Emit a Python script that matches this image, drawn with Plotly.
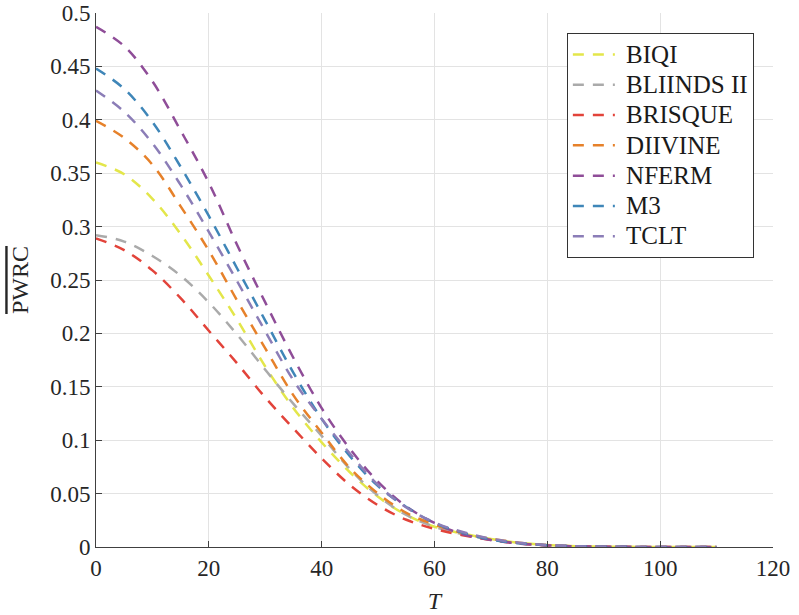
import plotly.graph_objects as go

T = [0, 5, 10, 15, 20, 25, 30, 35, 40, 45, 50, 55, 60, 65, 70, 75, 80, 85, 90, 95, 100, 105, 110]

BIQI = [0.360, 0.349, 0.326, 0.293, 0.254, 0.213, 0.169, 0.130, 0.098, 0.070, 0.047, 0.030, 0.019,
        0.0125, 0.0075, 0.0040, 0.0018, 0.0008, 0.0003, 0.00012, 0.00005, 0.00002, 0.00001]
BLIINDS_II = [0.292, 0.286, 0.2725, 0.254, 0.229, 0.199, 0.166, 0.134, 0.104, 0.073, 0.048, 0.030, 0.019,
              0.012, 0.007, 0.0035, 0.0017, 0.0007, 0.0003, 0.00012, 0.00005, 0.00002, 0.00001]
BRISQUE = [0.289, 0.278, 0.259, 0.233, 0.2025, 0.172, 0.140, 0.111, 0.083, 0.058, 0.039, 0.0255, 0.017,
           0.011, 0.0065, 0.0033, 0.0015, 0.0006, 0.00025, 0.0001, 0.00004, 0.00002, 0.00001]
DIIVINE = [0.399, 0.383, 0.358, 0.319, 0.2775, 0.231, 0.186, 0.142, 0.107, 0.074, 0.050, 0.032, 0.021,
           0.013, 0.0078, 0.0040, 0.0018, 0.0008, 0.0003, 0.0001, 0.00005, 0.00002, 0.00001]
NFERM = [0.487, 0.469, 0.436, 0.390, 0.341, 0.283, 0.229, 0.177, 0.130, 0.092, 0.061, 0.038, 0.0225,
         0.012, 0.0066, 0.0032, 0.0015, 0.0007, 0.0003, 0.00012, 0.00005, 0.00002, 0.00001]
M3 = [0.448, 0.429, 0.398, 0.356, 0.310, 0.261, 0.212, 0.163, 0.120, 0.085, 0.057, 0.0375, 0.0225,
      0.0134, 0.0070, 0.0035, 0.0016, 0.0007, 0.0003, 0.00012, 0.00005, 0.00002, 0.00001]
TCLT = [0.4275, 0.4075, 0.378, 0.339, 0.295, 0.249, 0.202, 0.156, 0.120, 0.0875, 0.058, 0.037, 0.023,
        0.014, 0.0078, 0.0040, 0.0019, 0.0008, 0.0003, 0.00012, 0.00005, 0.00002, 0.00001]

names = ["BIQI", "BLIINDS II", "BRISQUE", "DIIVINE", "NFERM", "M3", "TCLT"]
series = [BIQI, BLIINDS_II, BRISQUE, DIIVINE, NFERM, M3, TCLT]
colors = ["#e3e64a", "#aaaaaa", "#e2433a", "#e6812a", "#8f4d98", "#3f86b8", "#8b7db7"]

x_ticks = [0, 20, 40, 60, 80, 100, 120]
y_ticks = [0, 0.05, 0.1, 0.15, 0.2, 0.25, 0.3, 0.35, 0.4, 0.45, 0.5]
y_tick_labels = ["0", "0.05", "0.1", "0.15", "0.2", "0.25", "0.3", "0.35", "0.4", "0.45", "0.5"]

FONT = "Times New Roman, Liberation Serif, serif"

fig = go.Figure()
for n, s, c in zip(names, series, colors):
    fig.add_trace(go.Scatter(x=T, y=s, name='<span style="font-size:25px">\u00a0%s</span>' % n, mode="lines",
                             line=dict(color=c, width=2.5, dash="11px,9px", shape="spline")))

fig.update_layout(
    width=799, height=615,
    margin=dict(l=96, r=26, t=13, b=68),
    paper_bgcolor="white", plot_bgcolor="white",
    font=dict(family=FONT, size=23, color="#262626"),
    showlegend=True,
    legend=dict(x=0.6955, y=0.962, xanchor="left", yanchor="top",
                bgcolor="white", bordercolor="#333333", borderwidth=1,
                font=dict(family=FONT, size=21, color="#1a1a1a"),
                itemwidth=42, tracegroupgap=0),
    xaxis=dict(range=[0, 120], tickvals=x_ticks, ticks="inside", ticklen=6, tickcolor="#404040",
               showline=True, linecolor="#404040", linewidth=1, mirror=False, automargin=False,
               showgrid=True, gridcolor="#e3e3e3", gridwidth=1, zeroline=False,
               tickfont=dict(family=FONT, size=23, color="#262626"),
               title=dict(text="<i>T</i>", font=dict(family=FONT, size=24, color="#262626"), standoff=12)),
    yaxis=dict(range=[0, 0.5], tickvals=y_ticks, ticktext=y_tick_labels, ticks="inside", ticklen=6,
               tickcolor="#404040", showline=True, linecolor="#404040", linewidth=1, mirror=False,
               automargin=False,
               showgrid=True, gridcolor="#e3e3e3", gridwidth=1, zeroline=False,
               tickfont=dict(family=FONT, size=23, color="#262626"),
               title=dict(text='<span style="text-decoration:overline">PWRC</span>',
                          font=dict(family=FONT, size=24, color="#262626"), standoff=14)),
)

fig.write_html("out.html")
